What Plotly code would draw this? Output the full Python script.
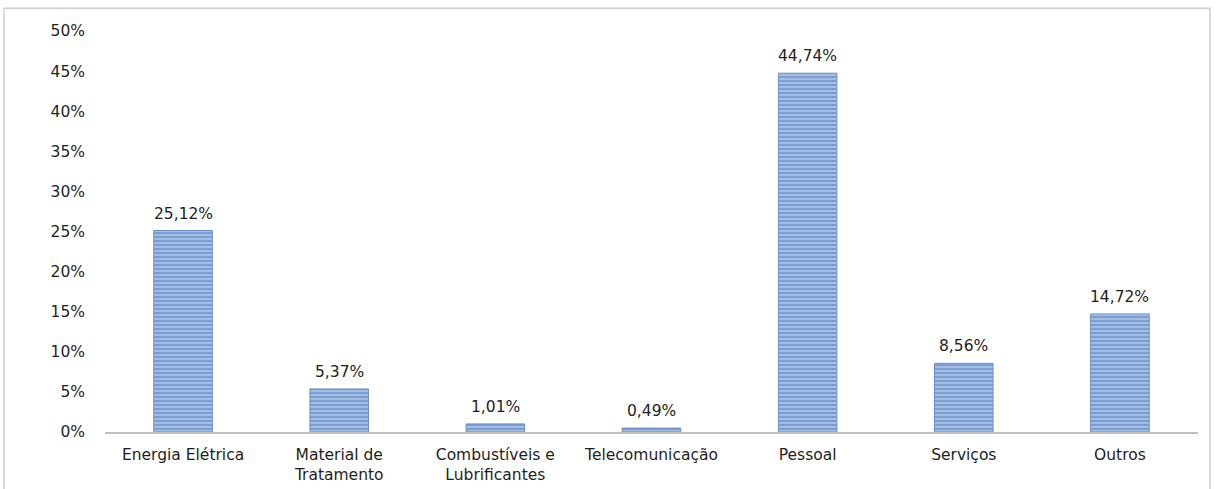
import plotly.graph_objects as go

categories = ["Energia Elétrica", "Material de<br>Tratamento", "Combustíveis e<br>Lubrificantes",
              "Telecomunicação", "Pessoal", "Serviços", "Outros"]
values = [25.12, 5.37, 1.01, 0.49, 44.74, 8.56, 14.72]
labels = ["25,12%", "5,37%", "1,01%", "0,49%", "44,74%", "8,56%", "14,72%"]
y_ticks = list(range(0, 51, 5))
y_tick_text = [f"{v}%" for v in y_ticks]

FONT = "DejaVu Sans, sans-serif"
FS = 15.5
TXT = "#1e1e1e"

fig = go.Figure(go.Bar(
    x=categories, y=values,
    width=0.375,
    marker=dict(color="#9db7df", line=dict(color="#6a91c9", width=1),
                pattern=dict(shape="-", fgcolor="#4676bd", bgcolor="#a4bde3", size=4, solidity=0.45)),
))

annotations = [dict(x=c, y=v, text=t, showarrow=False, yanchor="bottom", yshift=6,
                    font=dict(family=FONT, size=FS, color=TXT))
               for c, v, t in zip(categories, values, labels)]

fig.update_layout(
    width=1218, height=489,
    margin=dict(l=105, r=20, t=31, b=57),
    paper_bgcolor="white", plot_bgcolor="white",
    font=dict(family=FONT, size=FS, color=TXT),
    showlegend=False,
    bargap=0.6,
    annotations=annotations,
    xaxis=dict(showline=True, linecolor="#bfbfbf", linewidth=2, ticks="", showgrid=False,
               automargin=False, ticklabelstandoff=7, tickfont=dict(family=FONT, size=FS, color=TXT)),
    yaxis=dict(range=[0, 50], tickvals=y_ticks, ticktext=y_tick_text, showgrid=False, zeroline=False,
               automargin=False, showline=False, ticks="", ticklabelstandoff=19,
               tickfont=dict(family=FONT, size=FS, color=TXT)),
    shapes=[dict(type="rect", xref="paper", yref="paper", x0=-0.0924, x1=1.011, y0=-0.16, y1=1.057,
                 line=dict(color="#d0d0d0", width=1.5), fillcolor="rgba(0,0,0,0)", layer="below")],
)

fig.write_html("out.html")
